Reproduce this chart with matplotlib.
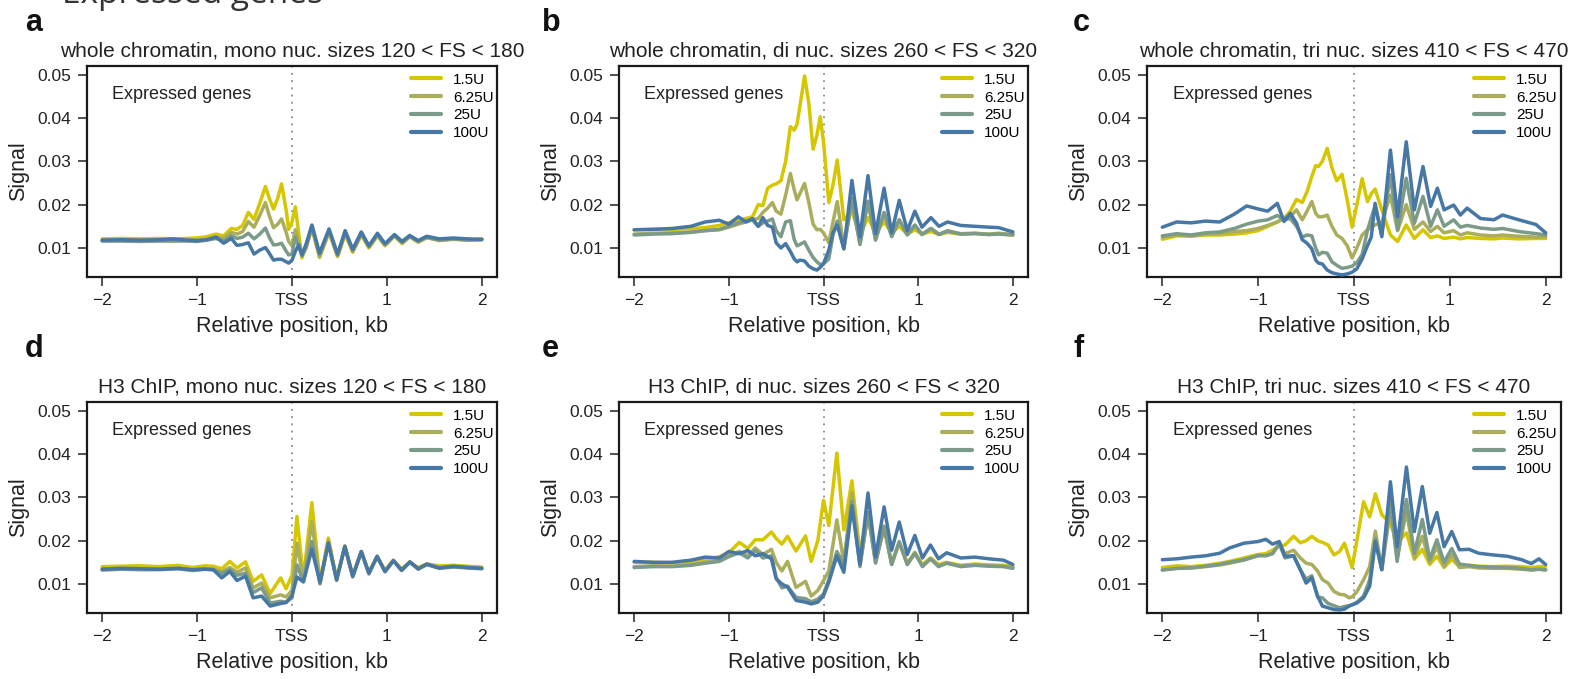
import matplotlib
matplotlib.use('Agg')
import matplotlib.pyplot as plt

plt.rcParams['font.family'] = ['Liberation Sans', 'DejaVu Sans']

units = ['1.5U', '6.25U', '25U', '100U']
couleurs = ['#D6C600', '#A9AD5C', '#7C9A88', '#4777A5']

titres = ['whole chromatin, mono nuc. sizes 120 < FS < 180',
          'whole chromatin, di nuc. sizes 260 < FS < 320',
          'whole chromatin, tri nuc. sizes 410 < FS < 470',
          'H3 ChIP, mono nuc. sizes 120 < FS < 180',
          'H3 ChIP, di nuc. sizes 260 < FS < 320',
          'H3 ChIP, tri nuc. sizes 410 < FS < 470']
lettres = ['a', 'b', 'c', 'd', 'e', 'f']
xticks = [-2, -1, 0, 1, 2]
xtick_labels = ['\u22122', '\u22121', 'TSS', '1', '2']
yticks = [0.01, 0.02, 0.03, 0.04, 0.05]
ytick_labels = ['0.01', '0.02', '0.03', '0.04', '0.05']

# panel a : whole chromatin, mono
xa = [-2.0, -1.8, -1.6, -1.4, -1.25, -1.1, -1.0, -0.9, -0.8, -0.72,
      -0.64, -0.58, -0.52, -0.46, -0.40, -0.34, -0.28, -0.24, -0.195, -0.15,
      -0.11, -0.06, -0.035, 0.0, 0.035, 0.07, 0.105, 0.15, 0.21, 0.29,
      0.39, 0.48, 0.56, 0.64, 0.73, 0.81, 0.90, 0.98, 1.08, 1.16,
      1.24, 1.33, 1.42, 1.55, 1.7, 1.85, 2.0]
a_15 = [0.0121, 0.0122, 0.0121, 0.0122, 0.0121, 0.0122, 0.0123, 0.0126, 0.0132, 0.0128,
        0.0145, 0.0143, 0.0152, 0.0182, 0.0166, 0.0203, 0.0242, 0.0215, 0.0190, 0.0215,
        0.0248, 0.0185, 0.0143, 0.0160, 0.0195, 0.0135, 0.0077, 0.0105, 0.0145, 0.0078,
        0.0136, 0.0080, 0.0132, 0.0090, 0.0130, 0.0100, 0.0128, 0.0105, 0.0128, 0.0110,
        0.0126, 0.0113, 0.0124, 0.0118, 0.0121, 0.0118, 0.0121]
a_625 = [0.0117, 0.0117, 0.0116, 0.0117, 0.0117, 0.0118, 0.0118, 0.0120, 0.0126, 0.0122,
         0.0136, 0.0132, 0.0138, 0.0161, 0.0148, 0.0175, 0.0205, 0.0175, 0.0147, 0.0155,
         0.0167, 0.0135, 0.0115, 0.0105, 0.0142, 0.0112, 0.0082, 0.0100, 0.0148, 0.0080,
         0.0138, 0.0082, 0.0134, 0.0092, 0.0132, 0.0102, 0.0129, 0.0107, 0.0128, 0.0112,
         0.0126, 0.0114, 0.0124, 0.0117, 0.0120, 0.0118, 0.0119]
a_25 = [0.0116, 0.0116, 0.0115, 0.0116, 0.0116, 0.0116, 0.0115, 0.0118, 0.0122, 0.0116,
        0.0128, 0.0122, 0.0125, 0.0134, 0.0121, 0.0132, 0.0146, 0.0125, 0.0107, 0.0108,
        0.0111, 0.0092, 0.0084, 0.0086, 0.0125, 0.0105, 0.0082, 0.0105, 0.0151, 0.0085,
        0.0141, 0.0084, 0.0137, 0.0095, 0.0134, 0.0104, 0.0131, 0.0108, 0.0129, 0.0113,
        0.0127, 0.0116, 0.0125, 0.0119, 0.0121, 0.0119, 0.0119]
a_100 = [0.0118, 0.0119, 0.0118, 0.0119, 0.0121, 0.0118, 0.0117, 0.0119, 0.0125, 0.0111,
         0.0122, 0.0106, 0.0108, 0.0112, 0.0086, 0.0095, 0.0101, 0.0088, 0.0072, 0.0074,
         0.0074, 0.0068, 0.0065, 0.0072, 0.0092, 0.0107, 0.0084, 0.0110, 0.0153, 0.0088,
         0.0144, 0.0086, 0.0140, 0.0097, 0.0137, 0.0105, 0.0134, 0.0110, 0.0131, 0.0115,
         0.0129, 0.0117, 0.0127, 0.0121, 0.0123, 0.0121, 0.0120]

# panel b : whole chromatin, di
xb = [-2.0, -1.8, -1.6, -1.4, -1.25, -1.1, -1.0, -0.9, -0.82, -0.75,
      -0.69, -0.64, -0.59, -0.54, -0.50, -0.45, -0.40, -0.35, -0.31, -0.28,
      -0.25, -0.20, -0.155, -0.11, -0.07, -0.035, 0.0, 0.056, 0.10, 0.145,
      0.215, 0.30, 0.385, 0.47, 0.55, 0.64, 0.72, 0.80, 0.885, 0.965,
      1.04, 1.135, 1.22, 1.31, 1.45, 1.6, 1.75, 1.85, 2.0]
b_15 = [0.0142, 0.0143, 0.0143, 0.0145, 0.0147, 0.0152, 0.0158, 0.0165, 0.0168, 0.0172,
        0.0200, 0.0198, 0.0238, 0.0245, 0.0248, 0.0255, 0.0300, 0.0380, 0.0372, 0.0385,
        0.0426, 0.0497, 0.0434, 0.0328, 0.0360, 0.0403, 0.0345, 0.0205, 0.0245, 0.0303,
        0.0165, 0.0185, 0.0130, 0.0170, 0.0135, 0.0160, 0.0135, 0.0150, 0.0132, 0.0142,
        0.0132, 0.0138, 0.0131, 0.0136, 0.0132, 0.0134, 0.0131, 0.0133, 0.0130]
b_625 = [0.0132, 0.0134, 0.0135, 0.0137, 0.0140, 0.0142, 0.0148, 0.0155, 0.0160, 0.0165,
         0.0168, 0.0182, 0.0192, 0.0205, 0.0185, 0.0178, 0.0222, 0.0272, 0.0235, 0.0211,
         0.0225, 0.0249, 0.0205, 0.0155, 0.0142, 0.0143, 0.0135, 0.0112, 0.0160, 0.0207,
         0.0102, 0.0205, 0.0110, 0.0207, 0.0120, 0.0181, 0.0128, 0.0165, 0.0131, 0.0152,
         0.0132, 0.0145, 0.0132, 0.0140, 0.0133, 0.0134, 0.0132, 0.0134, 0.0131]
b_25 = [0.0130, 0.0132, 0.0133, 0.0136, 0.0140, 0.0143, 0.0150, 0.0158, 0.0162, 0.0165,
        0.0150, 0.0158, 0.0162, 0.0167, 0.0140, 0.0126, 0.0160, 0.0163, 0.0120, 0.0105,
        0.0108, 0.0114, 0.0095, 0.0078, 0.0068, 0.0062, 0.0063, 0.0075, 0.0130, 0.0162,
        0.0098, 0.0215, 0.0108, 0.0208, 0.0118, 0.0182, 0.0126, 0.0165, 0.0130, 0.0153,
        0.0131, 0.0145, 0.0131, 0.0139, 0.0132, 0.0133, 0.0131, 0.0132, 0.0130]
b_100 = [0.0142, 0.0143, 0.0145, 0.0150, 0.0160, 0.0164, 0.0155, 0.0172, 0.0160, 0.0168,
         0.0150, 0.0170, 0.0152, 0.0148, 0.0112, 0.0100, 0.0110, 0.0092, 0.0075, 0.0068,
         0.0072, 0.0070, 0.0058, 0.0052, 0.0049, 0.0055, 0.0064, 0.0095, 0.0135, 0.0153,
         0.0098, 0.0256, 0.0125, 0.0267, 0.0133, 0.0238, 0.0135, 0.0210, 0.0140, 0.0185,
         0.0148, 0.0170, 0.0150, 0.0160, 0.0152, 0.0150, 0.0148, 0.0147, 0.0137]

# panel c : whole chromatin, tri
xc = [-2.0, -1.85, -1.7, -1.55, -1.4, -1.25, -1.12, -1.0, -0.9, -0.8,
      -0.73, -0.665, -0.6, -0.54, -0.49, -0.44, -0.40, -0.37, -0.33, -0.28,
      -0.23, -0.18, -0.125, -0.07, -0.02, 0.03, 0.085, 0.14, 0.18, 0.22,
      0.29, 0.38, 0.455, 0.545, 0.63, 0.72, 0.80, 0.87, 0.94, 1.04,
      1.11, 1.18, 1.32, 1.46, 1.55, 1.72, 1.9, 2.0]
c_15 = [0.0120, 0.0128, 0.0127, 0.0130, 0.0130, 0.0132, 0.0135, 0.0140, 0.0150, 0.0160,
        0.0168, 0.0185, 0.0212, 0.0205, 0.0230, 0.0265, 0.0290, 0.0288, 0.0300, 0.0330,
        0.0285, 0.0255, 0.0270, 0.0210, 0.0148, 0.0200, 0.0260, 0.0207, 0.0225, 0.0236,
        0.0188, 0.0130, 0.0115, 0.0153, 0.0122, 0.0142, 0.0124, 0.0128, 0.0122, 0.0125,
        0.0121, 0.0124, 0.0122, 0.0121, 0.0123, 0.0121, 0.0122, 0.0122]
c_625 = [0.0125, 0.0130, 0.0128, 0.0132, 0.0133, 0.0138, 0.0140, 0.0145, 0.0152, 0.0160,
         0.0170, 0.0172, 0.0188, 0.0165, 0.0185, 0.0207, 0.0180, 0.0172, 0.0172, 0.0176,
         0.0150, 0.0130, 0.0122, 0.0105, 0.0077, 0.0100, 0.0130, 0.0142, 0.0148, 0.0153,
         0.0160, 0.0222, 0.0140, 0.0200, 0.0143, 0.0160, 0.0138, 0.0150, 0.0135, 0.0140,
         0.0130, 0.0135, 0.0130, 0.0128, 0.0130, 0.0127, 0.0125, 0.0126]
c_25 = [0.0128, 0.0133, 0.0130, 0.0135, 0.0137, 0.0145, 0.0155, 0.0162, 0.0165, 0.0175,
        0.0165, 0.0168, 0.0150, 0.0125, 0.0130, 0.0128, 0.0100, 0.0084, 0.0090, 0.0088,
        0.0068, 0.0060, 0.0053, 0.0055, 0.0058, 0.0066, 0.0085, 0.0140, 0.0170, 0.0196,
        0.0130, 0.0269, 0.0142, 0.0261, 0.0157, 0.0219, 0.0150, 0.0188, 0.0150, 0.0165,
        0.0148, 0.0152, 0.0146, 0.0143, 0.0145, 0.0138, 0.0133, 0.0130]
c_100 = [0.0148, 0.0160, 0.0158, 0.0162, 0.0160, 0.0178, 0.0197, 0.0190, 0.0185, 0.0203,
         0.0161, 0.0180, 0.0157, 0.0119, 0.0111, 0.0098, 0.0072, 0.0065, 0.0063, 0.0049,
         0.0043, 0.0040, 0.0038, 0.0040, 0.0044, 0.0052, 0.0075, 0.0105, 0.0125, 0.0203,
         0.0126, 0.0326, 0.0172, 0.0345, 0.0188, 0.0288, 0.0196, 0.0238, 0.0188, 0.0199,
         0.0176, 0.0192, 0.0168, 0.0165, 0.0176, 0.0165, 0.0154, 0.0135]

# panel d : H3 ChIP, mono
xd = [-2.0, -1.8, -1.6, -1.4, -1.2, -1.05, -0.92, -0.83, -0.74, -0.655,
      -0.58, -0.49, -0.41, -0.32, -0.23, -0.12, -0.063, 0.0, 0.052, 0.12,
      0.209, 0.295, 0.383, 0.47, 0.557, 0.64, 0.73, 0.81, 0.897, 0.98,
      1.068, 1.155, 1.242, 1.33, 1.42, 1.55, 1.7, 1.85, 2.0]
d_15 = [0.0140, 0.0141, 0.0142, 0.0140, 0.0143, 0.0138, 0.0142, 0.0141, 0.0135, 0.0152,
        0.0137, 0.0151, 0.0106, 0.0121, 0.0078, 0.0114, 0.0089, 0.0120, 0.0256, 0.0112,
        0.0288, 0.0105, 0.0206, 0.0112, 0.0188, 0.0120, 0.0174, 0.0127, 0.0162, 0.0132,
        0.0155, 0.0135, 0.0150, 0.0138, 0.0146, 0.0142, 0.0143, 0.0141, 0.0139]
d_625 = [0.0135, 0.0136, 0.0136, 0.0135, 0.0137, 0.0133, 0.0136, 0.0135, 0.0128, 0.0138,
         0.0127, 0.0137, 0.0091, 0.0102, 0.0068, 0.0075, 0.0070, 0.0085, 0.0194, 0.0108,
         0.0244, 0.0102, 0.0200, 0.0110, 0.0187, 0.0118, 0.0175, 0.0125, 0.0164, 0.0129,
         0.0154, 0.0132, 0.0151, 0.0135, 0.0145, 0.0138, 0.0140, 0.0138, 0.0137]
d_25 = [0.0132, 0.0134, 0.0133, 0.0133, 0.0135, 0.0131, 0.0134, 0.0133, 0.0124, 0.0133,
        0.0120, 0.0125, 0.0080, 0.0091, 0.0056, 0.0060, 0.0058, 0.0068, 0.0144, 0.0105,
        0.0198, 0.0100, 0.0196, 0.0108, 0.0186, 0.0116, 0.0174, 0.0123, 0.0163, 0.0128,
        0.0153, 0.0131, 0.0150, 0.0134, 0.0145, 0.0136, 0.0139, 0.0137, 0.0135]
d_100 = [0.0134, 0.0136, 0.0135, 0.0134, 0.0136, 0.0133, 0.0134, 0.0133, 0.0114, 0.0129,
         0.0108, 0.0118, 0.0068, 0.0072, 0.0049, 0.0055, 0.0057, 0.0073, 0.0116, 0.0105,
         0.0180, 0.0104, 0.0194, 0.0110, 0.0187, 0.0118, 0.0175, 0.0125, 0.0164, 0.0129,
         0.0154, 0.0132, 0.0151, 0.0135, 0.0146, 0.0137, 0.0141, 0.0138, 0.0136]

# panel e : H3 ChIP, di
xe = [-2.0, -1.8, -1.6, -1.4, -1.25, -1.1, -1.0, -0.89, -0.8, -0.72,
      -0.64, -0.55, -0.50, -0.44, -0.38, -0.29, -0.19, -0.13, -0.06, 0.0,
      0.056, 0.141, 0.215, 0.30, 0.385, 0.47, 0.55, 0.64, 0.72, 0.80,
      0.885, 0.965, 1.045, 1.13, 1.215, 1.3, 1.45, 1.6, 1.75, 1.9,
      2.0]
e_15 = [0.0150, 0.0150, 0.0148, 0.0152, 0.0157, 0.0163, 0.0172, 0.0196, 0.0182, 0.0202,
        0.0202, 0.0220, 0.0205, 0.0192, 0.0210, 0.0176, 0.0211, 0.0152, 0.0200, 0.0293,
        0.0235, 0.0402, 0.0225, 0.0338, 0.0172, 0.0263, 0.0155, 0.0234, 0.0148, 0.0196,
        0.0148, 0.0173, 0.0145, 0.0160, 0.0145, 0.0150, 0.0143, 0.0146, 0.0144, 0.0143,
        0.0140]
e_625 = [0.0140, 0.0142, 0.0141, 0.0145, 0.0150, 0.0155, 0.0165, 0.0175, 0.0165, 0.0183,
         0.0168, 0.0180, 0.0150, 0.0130, 0.0152, 0.0092, 0.0106, 0.0072, 0.0085, 0.0108,
         0.0130, 0.0248, 0.0150, 0.0310, 0.0145, 0.0260, 0.0150, 0.0230, 0.0145, 0.0195,
         0.0145, 0.0170, 0.0142, 0.0158, 0.0142, 0.0148, 0.0142, 0.0144, 0.0142, 0.0141,
         0.0138]
e_25 = [0.0138, 0.0140, 0.0140, 0.0143, 0.0148, 0.0152, 0.0163, 0.0172, 0.0160, 0.0178,
        0.0160, 0.0165, 0.0115, 0.0091, 0.0095, 0.0069, 0.0066, 0.0059, 0.0065, 0.0077,
        0.0110, 0.0175, 0.0145, 0.0290, 0.0140, 0.0265, 0.0148, 0.0232, 0.0145, 0.0198,
        0.0145, 0.0172, 0.0140, 0.0158, 0.0140, 0.0148, 0.0140, 0.0143, 0.0141, 0.0140,
        0.0136]
e_100 = [0.0152, 0.0150, 0.0150, 0.0155, 0.0162, 0.0160, 0.0175, 0.0170, 0.0177, 0.0165,
         0.0170, 0.0158, 0.0112, 0.0100, 0.0093, 0.0062, 0.0058, 0.0054, 0.0058, 0.0073,
         0.0104, 0.0165, 0.0127, 0.0280, 0.0145, 0.0310, 0.0162, 0.0278, 0.0178, 0.0243,
         0.0168, 0.0212, 0.0160, 0.0190, 0.0158, 0.0172, 0.0160, 0.0162, 0.0158, 0.0155,
         0.0145]

# panel f : H3 ChIP, tri
xf = [-2.0, -1.85, -1.7, -1.55, -1.4, -1.3, -1.15, -1.0, -0.92, -0.85,
      -0.78, -0.72, -0.63, -0.56, -0.50, -0.44, -0.38, -0.33, -0.27, -0.21,
      -0.15, -0.10, -0.05, -0.02, 0.03, 0.10, 0.164, 0.223, 0.29, 0.38,
      0.45, 0.547, 0.63, 0.713, 0.79, 0.865, 0.94, 1.02, 1.1, 1.2,
      1.3, 1.45, 1.6, 1.75, 1.85, 1.93, 2.0]
f_15 = [0.0138, 0.0142, 0.0140, 0.0143, 0.0148, 0.0152, 0.0160, 0.0168, 0.0170, 0.0178,
        0.0188, 0.0190, 0.0210, 0.0195, 0.0200, 0.0210, 0.0200, 0.0196, 0.0190, 0.0167,
        0.0175, 0.0194, 0.0160, 0.0138, 0.0200, 0.0290, 0.0255, 0.0308, 0.0260, 0.0240,
        0.0195, 0.0218, 0.0157, 0.0180, 0.0145, 0.0164, 0.0138, 0.0157, 0.0140, 0.0143,
        0.0141, 0.0140, 0.0141, 0.0140, 0.0138, 0.0140, 0.0141]
f_625 = [0.0133, 0.0136, 0.0137, 0.0140, 0.0144, 0.0148, 0.0155, 0.0165, 0.0166, 0.0170,
         0.0192, 0.0170, 0.0178, 0.0160, 0.0148, 0.0145, 0.0130, 0.0110, 0.0102, 0.0083,
         0.0076, 0.0075, 0.0068, 0.0070, 0.0082, 0.0110, 0.0140, 0.0222, 0.0133, 0.0272,
         0.0160, 0.0268, 0.0160, 0.0210, 0.0150, 0.0186, 0.0140, 0.0168, 0.0138, 0.0140,
         0.0137, 0.0136, 0.0136, 0.0134, 0.0132, 0.0134, 0.0132]
f_25 = [0.0132, 0.0136, 0.0137, 0.0141, 0.0145, 0.0150, 0.0156, 0.0166, 0.0165, 0.0170,
        0.0193, 0.0160, 0.0165, 0.0133, 0.0111, 0.0119, 0.0070, 0.0068, 0.0055, 0.0050,
        0.0045, 0.0048, 0.0050, 0.0052, 0.0058, 0.0072, 0.0110, 0.0205, 0.0133, 0.0290,
        0.0152, 0.0295, 0.0171, 0.0249, 0.0157, 0.0202, 0.0150, 0.0182, 0.0146, 0.0143,
        0.0140, 0.0139, 0.0138, 0.0136, 0.0133, 0.0134, 0.0133]
f_100 = [0.0156, 0.0158, 0.0162, 0.0165, 0.0171, 0.0183, 0.0194, 0.0198, 0.0203, 0.0192,
         0.0198, 0.0164, 0.0165, 0.0133, 0.0102, 0.0114, 0.0072, 0.0049, 0.0045, 0.0041,
         0.0040, 0.0042, 0.0049, 0.0052, 0.0056, 0.0068, 0.0095, 0.0198, 0.0133, 0.0336,
         0.0186, 0.0370, 0.0221, 0.0325, 0.0217, 0.0265, 0.0186, 0.0221, 0.0179, 0.0180,
         0.0171, 0.0167, 0.0164, 0.0156, 0.0147, 0.0158, 0.0145]

panneaux = [(xa, [a_15, a_625, a_25, a_100]),
            (xb, [b_15, b_625, b_25, b_100]),
            (xc, [c_15, c_625, c_25, c_100]),
            (xd, [d_15, d_625, d_25, d_100]),
            (xe, [e_15, e_625, e_25, e_100]),
            (xf, [f_15, f_625, f_25, f_100])]

W, H = 1575.0, 679.0
gauches = [87, 619, 1147]
largeurs = [410, 409, 414]
hauts = [66, 402]
hauteur = 211

fig = plt.figure(figsize=(W / 100, H / 100), dpi=100)

for i in range(6):
    col = i % 3
    ligne = i // 3
    rect = [gauches[col] / W, 1 - (hauts[ligne] + hauteur) / H, largeurs[col] / W, hauteur / H]
    ax = fig.add_axes(rect)
    x, series = panneaux[i]
    ax.axvline(0, color='#8a8a8a', ls=(0, (1, 3)), lw=1.3, zorder=1)
    for j in range(4):
        ax.plot(x, series[j], color=couleurs[j], lw=2.5, label=units[j],
                solid_joinstyle='round', solid_capstyle='round', zorder=2 + j)
    ax.set_xlim(-2.16, 2.16)
    ax.set_ylim(0.0033, 0.052)
    ax.set_xticks(xticks)
    ax.set_xticklabels(xtick_labels)
    ax.set_yticks(yticks)
    ax.set_yticklabels(ytick_labels)
    ax.tick_params(length=6.5, width=1.1, pad=5, labelsize=12.5, color='#222222', labelcolor='#222222')
    for s in ax.spines.values():
        s.set_linewidth(1.6)
        s.set_color('#1a1a1a')
    ax.set_xlabel('Relative position, kb', fontsize=15.5, labelpad=6, color='#222222')
    ax.set_ylabel('Signal', fontsize=15.5, labelpad=6, color='#222222')
    ax.set_title(titres[i], fontsize=15, pad=6.5, color='#222222')
    ax.text(0.062, 0.867, 'Expressed genes', transform=ax.transAxes, fontsize=13,
            va='center', ha='left', color='#222222')
    leg = ax.legend(loc='upper left', bbox_to_anchor=(0.79, 0.968), frameon=False, fontsize=11,
                    handlelength=1.95, handletextpad=0.8, labelspacing=0.25, borderpad=0, borderaxespad=0)
    for h in leg.get_lines():
        h.set_linewidth(3)
    lx = [25, 542, 1073][col]
    ly = [31, 357][ligne]
    fig.text(lx / W, 1 - ly / H, lettres[i], fontsize=22, fontweight='bold', va='baseline', color='#111111')

# big heading cut at the top of the page, as in the source figure
fig.text(62 / W, 1 - 3 / H, 'Expressed genes', fontsize=24, family=['Open Sans', 'DejaVu Sans'],
         va='baseline', color='#333333')

fig.savefig('out.png', dpi=100)
